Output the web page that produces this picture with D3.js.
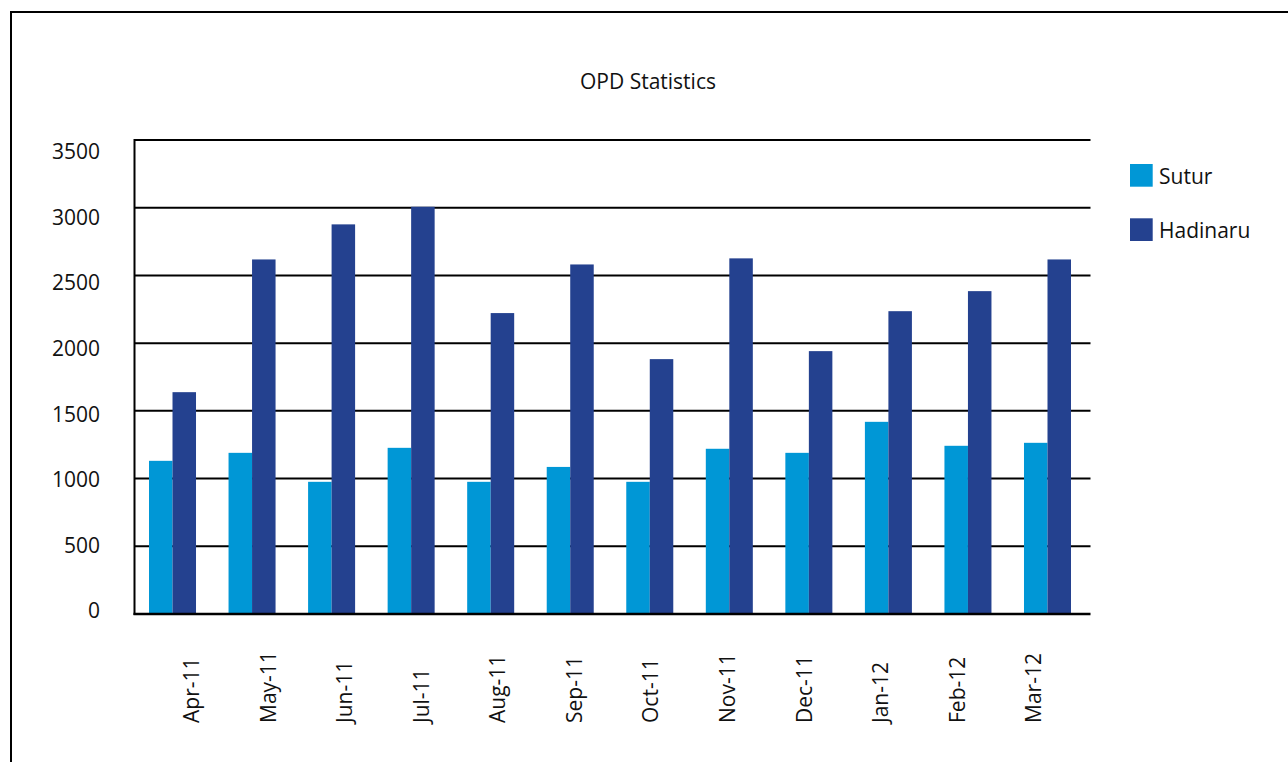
<!DOCTYPE html>
<html>
<head>
<meta charset="utf-8">
<script src="https://cdn.jsdelivr.net/npm/d3@7"></script>
<style>
  html, body { margin: 0; padding: 0; background: #fff; }
  svg { display: block; }
  text { font-family: "Open Sans", "Noto Sans", sans-serif; fill: #111; }
</style>
</head>
<body>
<svg id="chart" width="1288" height="762"></svg>
<script>
const months = ["Apr-11","May-11","Jun-11","Jul-11","Aug-11","Sep-11","Oct-11","Nov-11","Dec-11","Jan-12","Feb-12","Mar-12"];
const sutur = [1131,1190,976,1227,976,1086,976,1220,1190,1419,1242,1264];
const hadinaru = [1638,2618,2877,3007,2222,2581,1882,2626,1941,2236,2384,2618];
const seriesNames = ["Sutur","Hadinaru"];
const seriesColors = ["#0097d6","#24418f"];
const yTicks = [0,500,1000,1500,2000,2500,3000,3500];
const title = "OPD Statistics";

const svg = d3.select("#chart");

// outer frame (runs off the page right and bottom)
svg.append("rect").attr("x",11).attr("y",12).attr("width",1400).attr("height",900)
  .attr("fill","none").attr("stroke","#000").attr("stroke-width",2);

const plot = {left:134.5, right:1090.5, top:140, bottom:614};

const y = d3.scaleLinear().domain([0,3500]).range([plot.bottom, plot.top]);
const yLabel = d3.scaleLinear().domain([0,3500]).range([611,152]);

const x0 = d3.scaleBand().domain(months).range([149,1071]).paddingInner(0.409).paddingOuter(0);
const x1 = d3.scaleBand().domain(seriesNames).range([0, x0.bandwidth()]).padding(0);
const xLabel = d3.scalePoint().domain(months).range([191.7,1034]);

// gridlines
svg.append("g").selectAll("line").data(yTicks.filter(d=>d>0)).join("line")
  .attr("x1",plot.left).attr("x2",plot.right)
  .attr("y1",d=>y(d)).attr("y2",d=>y(d))
  .attr("stroke","#000").attr("stroke-width",2);

// bars
const groups = svg.append("g").selectAll("g").data(months).join("g")
  .attr("transform",d=>`translate(${x0(d)},0)`);
groups.selectAll("rect").data((d,i)=>[
    {s:"Sutur", v:sutur[i]},
    {s:"Hadinaru", v:hadinaru[i]}
  ]).join("rect")
  .attr("x",d=>x1(d.s))
  .attr("width",x1.bandwidth())
  .attr("y",d=>y(d.v))
  .attr("height",d=>y(0)-y(d.v))
  .attr("fill",d=>seriesColors[seriesNames.indexOf(d.s)]);

// axes lines
svg.append("line").attr("x1",plot.left).attr("x2",plot.left).attr("y1",plot.top-1).attr("y2",plot.bottom+1)
  .attr("stroke","#000").attr("stroke-width",2);
svg.append("line").attr("x1",plot.left-1).attr("x2",plot.right).attr("y1",plot.bottom).attr("y2",plot.bottom)
  .attr("stroke","#000").attr("stroke-width",2.5);

// y labels
svg.append("g").selectAll("text").data(yTicks).join("text")
  .attr("x",100).attr("y",d=>yLabel(d)).attr("dy","0.35em")
  .attr("text-anchor","end").attr("font-size",21).text(d=>d);

// x labels (read bottom-to-top, starting at y=723)
svg.append("g").selectAll("text").data(months).join("text")
  .attr("transform",d=>`translate(${xLabel(d)},723) rotate(-90)`)
  .attr("dy","0.35em").attr("text-anchor","start").attr("font-size",21).text(d=>d);

// title
svg.append("text").attr("x",648).attr("y",89).attr("text-anchor","middle").attr("font-size",21).text(title);

// legend
const leg = svg.append("g").selectAll("g").data(seriesNames).join("g")
  .attr("transform",(d,i)=>`translate(1130,${164 + i*54.3})`);
leg.append("rect").attr("width",22.7).attr("height",22.7).attr("fill",(d,i)=>seriesColors[i]);
leg.append("text").attr("x",29).attr("y",20).attr("font-size",21).text(d=>d);
</script>
</body>
</html>
